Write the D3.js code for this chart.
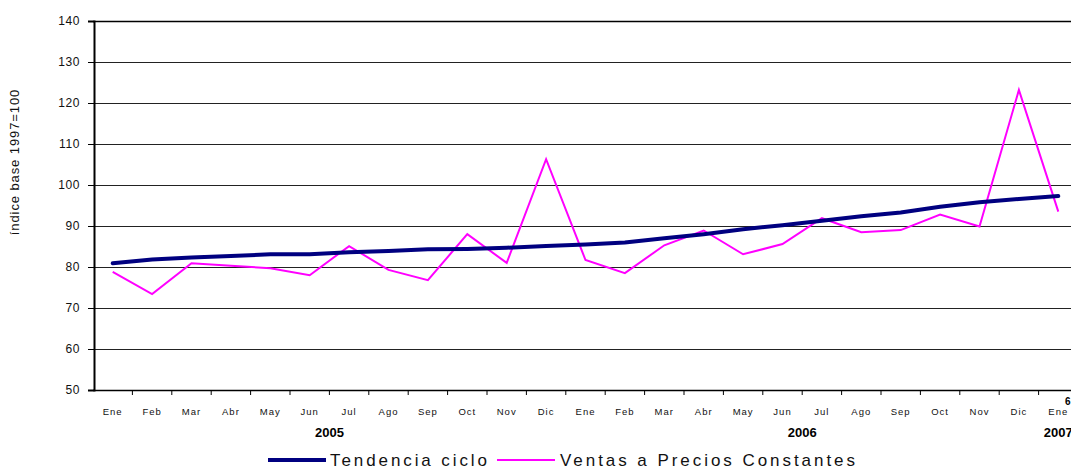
<!DOCTYPE html>
<html>
<head>
<meta charset="utf-8">
<script src="https://cdn.jsdelivr.net/npm/d3@7"></script>
<style>
  body { margin: 0; background: #fff; overflow: hidden; }
  text { font-family: Arial, "Liberation Sans", sans-serif; }
</style>
</head>
<body>
<svg id="viz"></svg>
<script>
var width = 1071,
    height = 469;

// months, two years plus the first month of 2007
var meses = ["Ene","Feb","Mar","Abr","May","Jun","Jul","Ago","Sep","Oct","Nov","Dic",
             "Ene","Feb","Mar","Abr","May","Jun","Jul","Ago","Sep","Oct","Nov","Dic","Ene"];
var years = ["2005", "2006", "2007"];
var yTicks = [50, 60, 70, 80, 90, 100, 110, 120, 130, 140];

var tendencia = [80.9, 81.8, 82.3, 82.7, 83.1, 83.1, 83.6, 83.9, 84.3, 84.4, 84.7, 85.1,
                 85.5, 86.0, 87.0, 88.0, 89.2, 90.2, 91.3, 92.4, 93.3, 94.7, 95.8, 96.6, 97.3];
var ventas = [78.8, 73.4, 80.9, 80.3, 79.7, 78.0, 85.1, 79.3, 76.8, 88.0, 81.0, 106.3,
              81.7, 78.5, 85.3, 88.9, 83.1, 85.6, 91.9, 88.5, 89.0, 92.8, 89.9, 123.2, 93.5];

var svg = d3.select("#viz").attr("width", width).attr("height", height);

var idx = meses.map(function(d, i) { return i; });

var x = d3.scaleBand().domain(idx).range([93, 93 + 25 * 39.4]);
var y = d3.scaleLinear().domain([50, 140]).range([390, 21]);

// horizontal grid
svg.append("g")
    .selectAll("line")
    .data(yTicks.slice(1))
    .enter()
    .append("line")
    .attr("x1", 93).attr("x2", width)
    .attr("y1", function(d) { return Math.round(y(d)) + 0.5; })
    .attr("y2", function(d) { return Math.round(y(d)) + 0.5; })
    .attr("stroke", function(d) { return d == 140 ? "#000" : "#222"; })
    .attr("stroke-width", function(d) { return d == 140 ? 1.5 : 1; });

// y axis
var yAxis = svg.append("g")
    .attr("transform", "translate(94,0)")
    .call(d3.axisLeft(y).tickValues(yTicks).tickSize(6).tickPadding(8));
yAxis.select(".domain").attr("stroke", "#000").attr("stroke-width", 2);
yAxis.selectAll(".tick line").attr("stroke", "#000");
yAxis.selectAll("text")
    .style("font-size", "12px")
    .style("letter-spacing", "0.6px")
    .attr("fill", "#111");

// x axis, ticks between the months
var xAxis = svg.append("g")
    .attr("transform", "translate(0,390)")
    .call(d3.axisBottom(x).tickSize(0).tickFormat(function(i) { return meses[i]; }).tickPadding(18));
xAxis.select(".domain").remove();
xAxis.selectAll("text")
    .style("font-size", "9.5px")
    .style("letter-spacing", "1px")
    .attr("fill", "#111");

svg.append("line")
    .attr("x1", 93).attr("x2", width)
    .attr("y1", 390.5).attr("y2", 390.5)
    .attr("stroke", "#000").attr("stroke-width", 1.5);

svg.append("g")
    .selectAll("line")
    .data(idx.slice(1))
    .enter()
    .append("line")
    .attr("x1", function(i) { return x(i); })
    .attr("x2", function(i) { return x(i); })
    .attr("y1", 390).attr("y2", 395)
    .attr("stroke", "#000");

// year labels under each group of months
var yearPos = [
  (x(0) + x(11)) / 2 + x.bandwidth() / 2,
  (x(12) + x(23)) / 2 + x.bandwidth() / 2,
  x(24) + x.bandwidth() / 2
];
svg.append("g")
    .selectAll("text")
    .data(years)
    .enter()
    .append("text")
    .attr("x", function(d, i) { return yearPos[i]; })
    .attr("y", 437)
    .attr("text-anchor", "middle")
    .style("font-size", "13px")
    .style("font-weight", "bold")
    .text(function(d) { return d; });

// footnote mark next to the last month
svg.append("text")
    .attr("x", 1065).attr("y", 405)
    .style("font-size", "10px")
    .style("font-weight", "bold")
    .text("6");

// y axis title
svg.append("text")
    .attr("transform", "translate(19,162) rotate(-90)")
    .attr("text-anchor", "middle")
    .style("font-size", "13px")
    .style("letter-spacing", "0.9px")
    .attr("fill", "#111")
    .text("índice base 1997=100");

var line = d3.line()
    .x(function(d, i) { return x(i) + x.bandwidth() / 2; })
    .y(function(d) { return y(d); });

svg.append("path")
    .datum(ventas)
    .attr("d", line)
    .attr("fill", "none")
    .attr("stroke", "#ff00ff")
    .attr("stroke-width", 2);

svg.append("path")
    .datum(tendencia)
    .attr("d", line)
    .attr("fill", "none")
    .attr("stroke", "#000080")
    .attr("stroke-width", 4)
    .attr("stroke-linecap", "round");

// legend
var legend = [
  {name: "Tendencia ciclo", color: "#000080", w: 4, x0: 268, x1: 326, tx: 330, tl: 157},
  {name: "Ventas a Precios Constantes", color: "#ff00ff", w: 2, x0: 497, x1: 555, tx: 560, tl: 295}
];
var lg = svg.append("g").selectAll("g").data(legend).enter().append("g");
lg.append("line")
    .attr("x1", function(d) { return d.x0; })
    .attr("x2", function(d) { return d.x1; })
    .attr("y1", 460).attr("y2", 460)
    .attr("stroke", function(d) { return d.color; })
    .attr("stroke-width", function(d) { return d.w; });
lg.append("text")
    .attr("x", function(d) { return d.tx; })
    .attr("y", 466)
    .attr("textLength", function(d) { return d.tl; })
    .attr("lengthAdjust", "spacing")
    .style("font-size", "17px")
    .attr("fill", "#111")
    .text(function(d) { return d.name; });
</script>
</body>
</html>
